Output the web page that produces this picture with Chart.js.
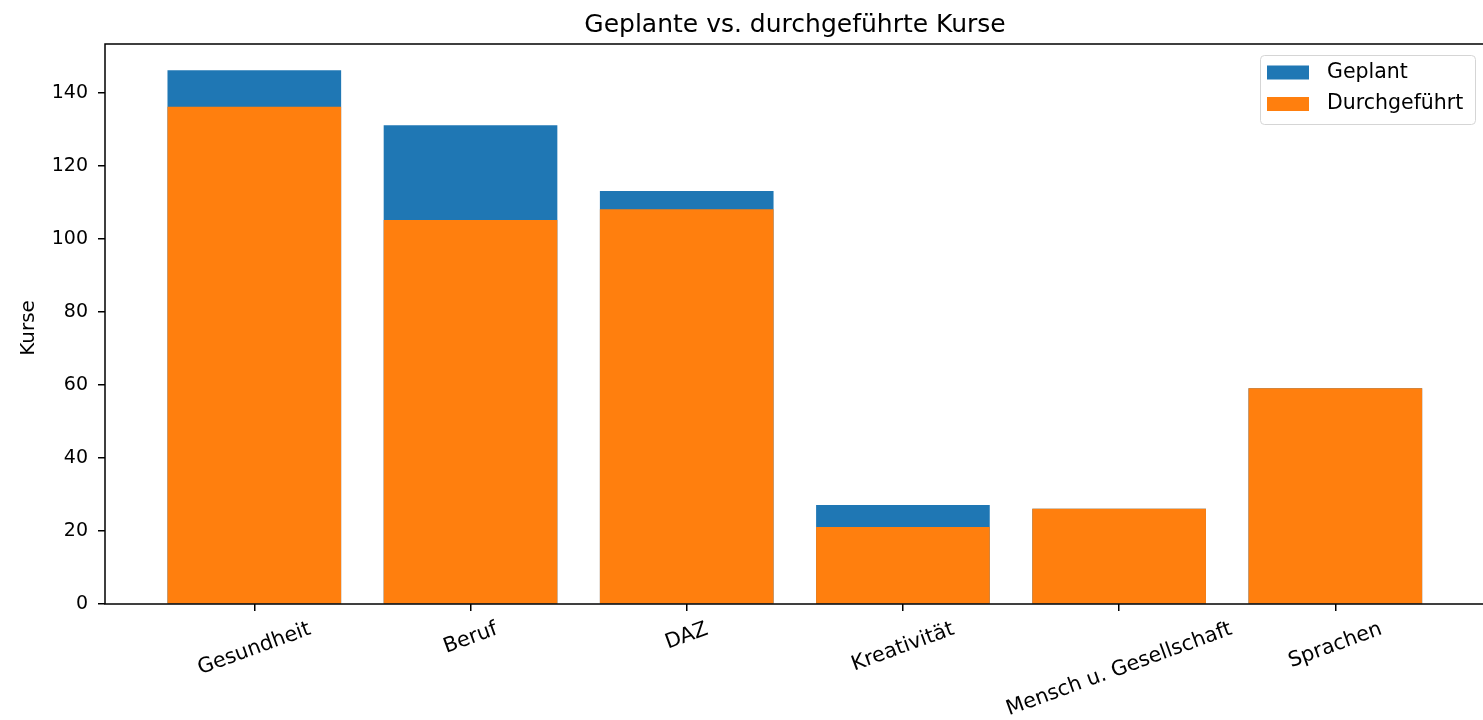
<!DOCTYPE html>
<html>
<head>
<meta charset="utf-8">
<script src="https://cdn.jsdelivr.net/npm/chart.js@4/dist/chart.umd.min.js"></script>
<style>
  html, body { margin: 0; padding: 0; background: #fff; }
  canvas { display: block; }
</style>
</head>
<body>
<canvas id="kurse-chart" width="1483" height="720"></canvas>
<script>
const categories = ['Gesundheit', 'Beruf', 'DAZ', 'Kreativität', 'Mensch u. Gesellschaft', 'Sprachen'];
const geplant = [146, 131, 113, 27, 26, 59];
const durchgefuehrt = [136, 105, 108, 21, 26, 59];
const yTicks = [0, 20, 40, 60, 80, 100, 120, 140];
const chartTitle = 'Geplante vs. durchgeführte Kurse';
const yTitle = 'Kurse';

const FONT = '"DejaVu Sans", sans-serif';
const BLUE = '#1f77b4';
const ORANGE = '#ff7f0e';

// matplotlib-like frame round the axes
const frame = {
    id: 'frame',
    afterDatasetsDraw(chart) {
        const { ctx, chartArea: a } = chart;
        ctx.save();
        ctx.strokeStyle = '#000';
        ctx.lineWidth = 1.5;
        ctx.strokeRect(a.left, a.top, a.right - a.left + 2, a.bottom - a.top);
        ctx.restore();
    }
};

// title centred over the plot area, y label centred at the left
const titles = {
    id: 'titles',
    afterDraw(chart) {
        const { ctx, chartArea: a } = chart;
        ctx.save();
        ctx.font = '25px ' + FONT;
        ctx.fillStyle = '#000';
        ctx.textAlign = 'center';
        ctx.textBaseline = 'alphabetic';
        ctx.fillText(chartTitle, (a.left + a.right) / 2 + 1, 32);

        ctx.font = '20px ' + FONT;
        ctx.textBaseline = 'middle';
        ctx.translate(28.5, (a.top + a.bottom) / 2 + 4);
        ctx.rotate(-Math.PI / 2);
        ctx.fillText(yTitle, 0, 0);
        ctx.restore();
    }
};

// rotated category labels, centred under each tick
const xLabels = {
    id: 'xLabels',
    afterDraw(chart) {
        const { ctx, chartArea: a } = chart;
        const x = chart.scales.x;
        const th = 20 * Math.PI / 180;
        const h = 20.7;
        ctx.save();
        ctx.font = '20.7px ' + FONT;
        ctx.fillStyle = '#000';
        ctx.textAlign = 'center';
        ctx.textBaseline = 'middle';
        categories.forEach((c, i) => {
            const w = ctx.measureText(c).width;
            const H = w * Math.sin(th) + h * Math.cos(th);
            const cx = x.getPixelForValue(i);
            const cy = a.bottom + 15 + H / 2;
            ctx.save();
            ctx.translate(cx, cy);
            ctx.rotate(-th);
            ctx.fillText(c, 0, 0);
            ctx.restore();
        });
        ctx.restore();
    }
};

// legend box in the upper right corner
const legendBox = {
    id: 'legendBox',
    afterDraw(chart) {
        const { ctx } = chart;
        const bx = 1260, by = 55, bw = 215, bh = 69;
        ctx.save();
        ctx.fillStyle = 'rgba(255,255,255,0.8)';
        ctx.strokeStyle = '#d5d5d5';
        ctx.lineWidth = 1;
        ctx.beginPath();
        ctx.roundRect(bx + 0.5, by + 0.5, bw, bh, 4);
        ctx.fill();
        ctx.stroke();
        ctx.font = '20.5px ' + FONT;
        ctx.textAlign = 'left';
        ctx.textBaseline = 'middle';
        chart.data.datasets.forEach((ds, i) => {
            const y = by + 17.5 + i * 31.5;
            ctx.fillStyle = ds.backgroundColor;
            ctx.fillRect(bx + 7, y - 7, 42, 14);
            ctx.fillStyle = '#000';
            ctx.fillText(ds.label, bx + 67, y);
        });
        ctx.restore();
    }
};

new Chart(document.getElementById('kurse-chart'), {
    type: 'bar',
    data: {
        datasets: [
            {
                label: 'Geplant',
                data: geplant.map((v, i) => ({ x: i, y: v })),
                backgroundColor: BLUE,
                order: 1
            },
            {
                label: 'Durchgeführt',
                data: durchgefuehrt.map((v, i) => ({ x: i, y: v })),
                backgroundColor: ORANGE,
                order: 0
            }
        ]
    },
    options: {
        responsive: false,
        animation: false,
        grouped: false,
        barThickness: 173,
        layout: { padding: { top: 44, left: 0, right: 0, bottom: 0 } },
        plugins: {
            legend: { display: false },
            title: { display: false },
            tooltip: { enabled: false }
        },
        scales: {
            x: {
                type: 'linear',
                offset: false,
                min: -0.6906,
                max: 5.683,
                afterBuildTicks: scale => {
                    scale.ticks = categories.map((c, i) => ({ value: i }));
                },
                afterFit: scale => { scale.height = 116; },
                ticks: { display: false },
                border: { display: false },
                grid: {
                    display: true,
                    offset: false,
                    drawOnChartArea: false,
                    drawTicks: true,
                    tickLength: 7,
                    color: '#000',
                    lineWidth: 1.5
                }
            },
            y: {
                type: 'linear',
                min: 0,
                max: 153.3,
                afterBuildTicks: scale => {
                    scale.ticks = yTicks.map(v => ({ value: v }));
                },
                afterFit: scale => { scale.width = 105; },
                ticks: {
                    color: '#000',
                    font: { family: FONT, size: 19 },
                    padding: 10
                },
                border: { display: false },
                grid: {
                    display: true,
                    drawOnChartArea: false,
                    drawTicks: true,
                    tickLength: 7,
                    color: '#000',
                    lineWidth: 1.5
                },
                title: { display: false }
            }
        }
    },
    plugins: [frame, titles, xLabels, legendBox]
});
</script>
</body>
</html>
